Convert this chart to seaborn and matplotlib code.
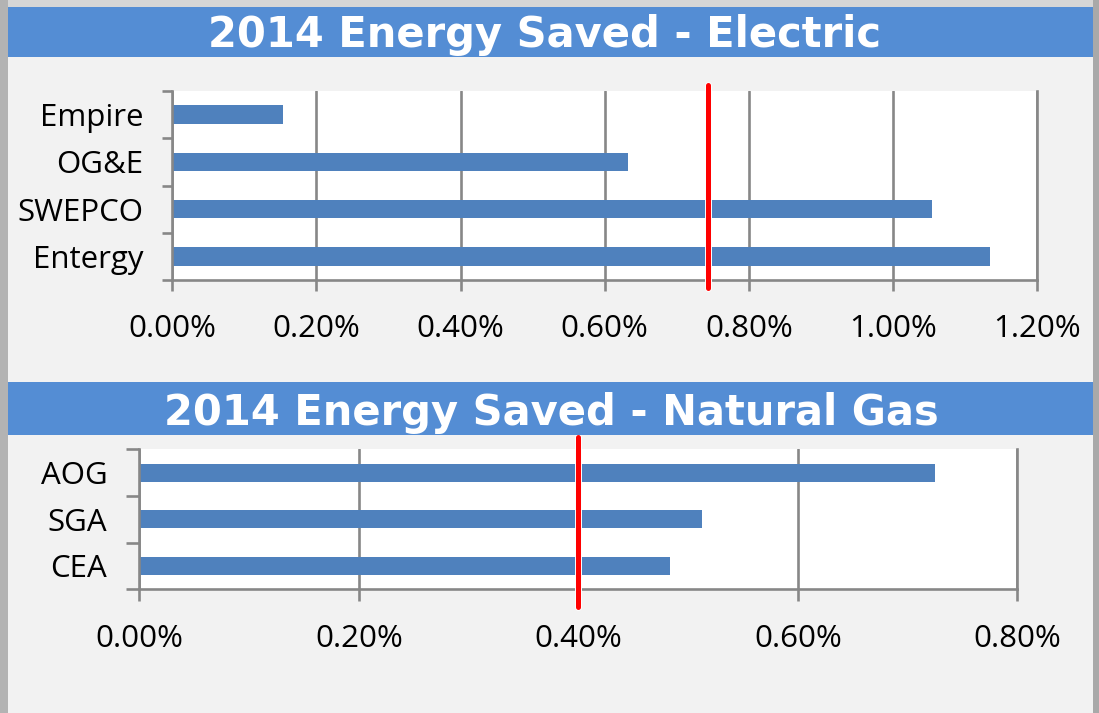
import numpy as np
import matplotlib
matplotlib.use("Agg")
import matplotlib.pyplot as plt
import matplotlib.patheffects as pe
from matplotlib.patches import Rectangle
from matplotlib.ticker import FuncFormatter
import seaborn as sns
import pandas as pd

# ---- data ----
elec_utilities = ["Empire", "OG&E", "SWEPCO", "Entergy"]
elec_saved_pct = [0.154, 0.633, 1.054, 1.135]
elec_target_pct = 0.744
elec_ticks = [0.0, 0.2, 0.4, 0.6, 0.8, 1.0, 1.2]

gas_utilities = ["AOG", "SGA", "CEA"]
gas_saved_pct = [0.725, 0.513, 0.484]
gas_target_pct = 0.40
gas_ticks = [0.0, 0.2, 0.4, 0.6, 0.8]

title_elec = "2014 Energy Saved - Electric"
title_gas = "2014 Energy Saved - Natural Gas"

# ---- style ----
sns.set_style("white")
plt.rcParams["font.family"] = ["Open Sans", "DejaVu Sans"]

W, H = 1099, 713
BAR = "#4F81BD"
BANNER = "#548DD4"
GRID = "#878787"
PANEL = "#F2F2F2"
LW = 1.9
LABEL_SIZE = 22.5

fig = plt.figure(figsize=(W / 100, H / 100), dpi=100)
fig.patch.set_facecolor("#D6D6D6")

def px_rect(x0, y0, x1, y1, color, z=0):
    fig.add_artist(Rectangle((x0 / W, 1 - y1 / H), (x1 - x0) / W, (y1 - y0) / H,
                             transform=fig.transFigure, facecolor=color,
                             edgecolor="none", zorder=z))

# border strips and panel
px_rect(0, 0, 8.3, H, "#B3B3B3", 0)
px_rect(1093, 0, W, H, "#A9A9A9", 0)
px_rect(8.3, 7.3, 1093, H, PANEL, 0)
# banners
px_rect(8.3, 7.3, 1092.7, 57.3, BANNER, 1)
px_rect(8.3, 381.7, 1092.7, 435, BANNER, 1)

fig.text(545 / W, 1 - 47.3 / H, title_elec, ha="center", va="baseline",
         color="white", fontsize=30, fontweight="bold", family="DejaVu Sans", zorder=3)
fig.text(551 / W, 1 - 425 / H, title_gas, ha="center", va="baseline",
         color="white", fontsize=30, fontweight="bold", family="DejaVu Sans", zorder=3)


def draw(ax_px, cats, vals, target, ticks, ytick_len, ypad, xtick_len, red_px):
    x0, y0, x1, y1 = ax_px
    ax = fig.add_axes([x0 / W, 1 - y1 / H, (x1 - x0) / W, (y1 - y0) / H])
    ax.set_facecolor("white")
    df = pd.DataFrame({"cat": cats, "val": vals})
    sns.barplot(data=df, x="val", y="cat", orient="h", color=BAR, saturation=1,
                width=0.39, linewidth=0, ax=ax)
    n = len(cats)
    ax.set_ylim(n - 0.5, -0.5)
    ax.set_xlim(ticks[0], ticks[-1])
    ax.set_xticks(ticks)
    ax.xaxis.set_major_formatter(FuncFormatter(lambda v, p: f"{v:.2f}%"))
    ax.set_yticks(range(n))
    ax.set_yticklabels(cats)
    ax.set_yticks(np.arange(-0.5, n), minor=True)
    ax.tick_params(axis="y", which="major", length=0, pad=ypad, labelsize=LABEL_SIZE,
                   labelcolor="black")
    ax.tick_params(axis="y", which="minor", length=ytick_len, width=LW, color=GRID,
                   direction="out", left=True)
    ax.tick_params(axis="x", which="major", length=xtick_len, width=LW, color=GRID,
                   direction="out", bottom=True, pad=16.5, labelsize=LABEL_SIZE,
                   labelcolor="black")
    ax.set_xlabel("")
    ax.set_ylabel("")
    ax.grid(axis="x", color=GRID, linewidth=LW)
    ax.grid(axis="y", visible=False)
    ax.set_axisbelow(True)
    for s in ["left", "bottom", "right"]:
        ax.spines[s].set_visible(True)
        ax.spines[s].set_color(GRID)
        ax.spines[s].set_linewidth(LW)
    ax.spines["top"].set_visible(False)
    # red target line, extending slightly beyond the plot area
    r0, r1 = red_px
    ymin = (y1 - r1) / (y1 - y0)
    ymax = (y1 - r0) / (y1 - y0)
    ax.axvline(target, ymin=ymin, ymax=ymax, color="#FF0000", linewidth=3.6,
               clip_on=False, zorder=5,
               path_effects=[pe.Stroke(linewidth=5.0, foreground="white"), pe.Normal()])
    return ax


draw((172.3, 91, 1037, 280), elec_utilities, elec_saved_pct, elec_target_pct,
     elec_ticks, 7.2, 21, 8.0, (85, 288))
draw((139.3, 449.3, 1017.3, 589.3), gas_utilities, gas_saved_pct, gas_target_pct,
     gas_ticks, 9.2, 23, 8.8, (437.3, 606.7))

fig.savefig("out.png", dpi=100, facecolor=fig.get_facecolor())
